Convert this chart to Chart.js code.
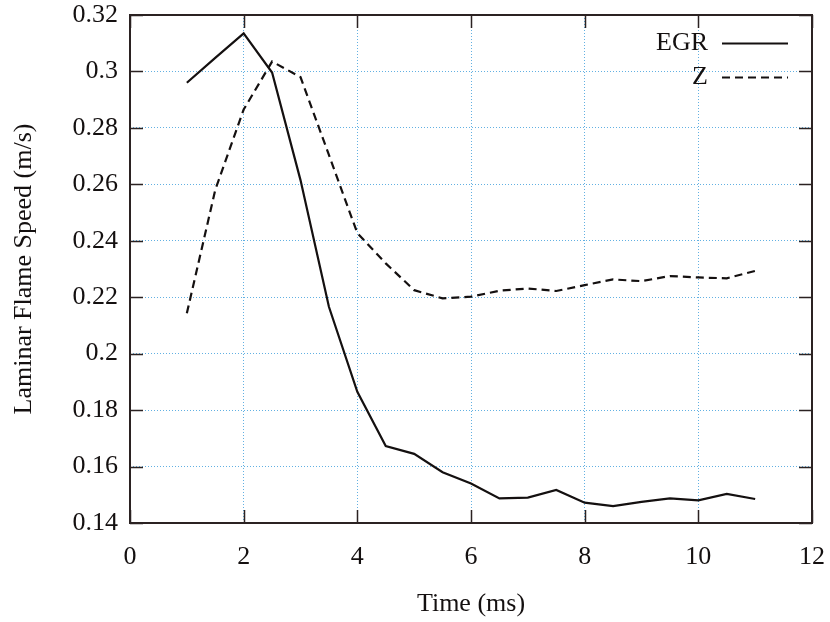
<!DOCTYPE html>
<html>
<head>
<meta charset="utf-8">
<script src="https://cdn.jsdelivr.net/npm/chart.js@4.4.0/dist/chart.umd.min.js"></script>
<style>
  html, body { margin: 0; padding: 0; background: #fff; }
  #chart { display: block; }
</style>
</head>
<body>
<canvas id="chart" width="830" height="622"></canvas>
<script>
// time in ms
const time = [1, 1.5, 2, 2.5, 3, 3.5, 4, 4.5, 5, 5.5, 6, 6.5, 7, 7.5, 8, 8.5, 9, 9.5, 10, 10.5, 11];
// laminar flame speed, m/s
const egr = [0.296, 0.3048, 0.3135, 0.2996, 0.2615, 0.2166, 0.1865, 0.1673, 0.1645, 0.158, 0.154,
             0.1487, 0.149, 0.1517, 0.1472, 0.146, 0.1475, 0.1487, 0.148, 0.1503, 0.1485];
const z = [0.2143, 0.258, 0.2865, 0.3035, 0.298, 0.2704, 0.2427, 0.232, 0.2225, 0.2196, 0.2202,
           0.2223, 0.2231, 0.2222, 0.2243, 0.2263, 0.2257, 0.2275, 0.227, 0.2267, 0.2293];

const xTicks = [0, 2, 4, 6, 8, 10, 12];
const yTicks = [0.14, 0.16, 0.18, 0.2, 0.22, 0.24, 0.26, 0.28, 0.3, 0.32];

const FONT = 'Liberation Serif';
const INK = '#141010';
const FRAME = '#2b2222';
const GRID = '#62b0e2';

function pts(ys) {
    return ys.map((y, i) => ({ x: time[i], y: y }));
}

// gnuplot-like frame with inward tick marks on all four sides
const framePlugin = {
    id: 'frame',
    afterDatasetsDraw(chart) {
        const { ctx, chartArea: a, scales } = chart;
        const len = 13;
        ctx.save();
        ctx.strokeStyle = FRAME;
        ctx.lineWidth = 1.5;
        ctx.beginPath();
        scales.x.ticks.forEach(t => {
            const px = Math.round(scales.x.getPixelForValue(t.value)) + 0.5;
            ctx.moveTo(px, a.bottom); ctx.lineTo(px, a.bottom - len);
            ctx.moveTo(px, a.top); ctx.lineTo(px, a.top + len);
        });
        scales.y.ticks.forEach(t => {
            const py = Math.round(scales.y.getPixelForValue(t.value)) + 0.5;
            ctx.moveTo(a.left, py); ctx.lineTo(a.left + len, py);
            ctx.moveTo(a.right, py); ctx.lineTo(a.right - len, py);
        });
        ctx.stroke();
        ctx.lineWidth = 2;
        ctx.strokeRect(Math.round(a.left), Math.round(a.top), Math.round(a.right - a.left), Math.round(a.bottom - a.top));
        ctx.restore();
    }
};

// key in the top right corner: label then line sample
const keyPlugin = {
    id: 'key',
    afterDatasetsDraw(chart) {
        const { ctx } = chart;
        ctx.save();
        ctx.font = '26px "' + FONT + '"';
        ctx.textBaseline = 'middle';
        ctx.textAlign = 'right';
        chart.data.datasets.forEach((ds, i) => {
            const y = 43 + i * 34;
            ctx.fillStyle = INK;
            ctx.fillText(ds.label, 708, y);
            ctx.strokeStyle = ds.borderColor;
            ctx.lineWidth = ds.borderWidth;
            ctx.setLineDash(ds.borderDash || []);
            ctx.beginPath();
            ctx.moveTo(722, y + 0.5);
            ctx.lineTo(788, y + 0.5);
            ctx.stroke();
        });
        ctx.restore();
    }
};

new Chart(document.getElementById('chart'), {
    type: 'line',
    data: {
        datasets: [{
            label: 'EGR',
            data: pts(egr),
            borderColor: INK,
            borderWidth: 2.2,
            pointRadius: 0,
            tension: 0,
            fill: false
        }, {
            label: 'Z',
            data: pts(z),
            borderColor: INK,
            borderWidth: 2.2,
            borderDash: [8, 5],
            pointRadius: 0,
            tension: 0,
            fill: false
        }]
    },
    options: {
        responsive: false,
        animation: false,
        layout: { padding: { top: 15, right: 18, left: 0, bottom: 0 } },
        plugins: {
            legend: { display: false },
            tooltip: { enabled: false }
        },
        scales: {
            x: {
                type: 'linear',
                min: 0,
                max: 12,
                afterBuildTicks: s => { s.ticks = xTicks.map(v => ({ value: v })); },
                afterFit: s => { s.height = 99; s.paddingLeft = 0; s.paddingRight = 0; },
                ticks: {
                    autoSkip: false,
                    maxRotation: 0,
                    padding: 19,
                    color: INK,
                    font: { family: FONT, size: 26 },
                    callback: v => String(v)
                },
                grid: { color: GRID, lineWidth: 1, drawTicks: false },
                border: { display: false, dash: [1, 2] },
                title: {
                    display: true,
                    text: 'Time (ms)',
                    color: INK,
                    font: { family: FONT, size: 26 },
                    padding: { top: 0, bottom: 2 }
                }
            },
            y: {
                type: 'linear',
                min: 0.14,
                max: 0.32,
                afterBuildTicks: s => { s.ticks = yTicks.map(v => ({ value: v })); },
                afterFit: s => { s.width = 130; s.paddingTop = 0; s.paddingBottom = 0; },
                ticks: {
                    autoSkip: false,
                    padding: 12,
                    color: INK,
                    font: { family: FONT, size: 26 },
                    callback: v => String(+v.toFixed(2))
                },
                grid: { color: GRID, lineWidth: 1, drawTicks: false },
                border: { display: false, dash: [1, 2] },
                title: {
                    display: true,
                    text: 'Laminar Flame Speed (m/s)',
                    color: INK,
                    font: { family: FONT, size: 26 },
                    padding: { top: 9, bottom: 0 }
                }
            }
        }
    },
    plugins: [framePlugin, keyPlugin]
});
</script>
</body>
</html>
